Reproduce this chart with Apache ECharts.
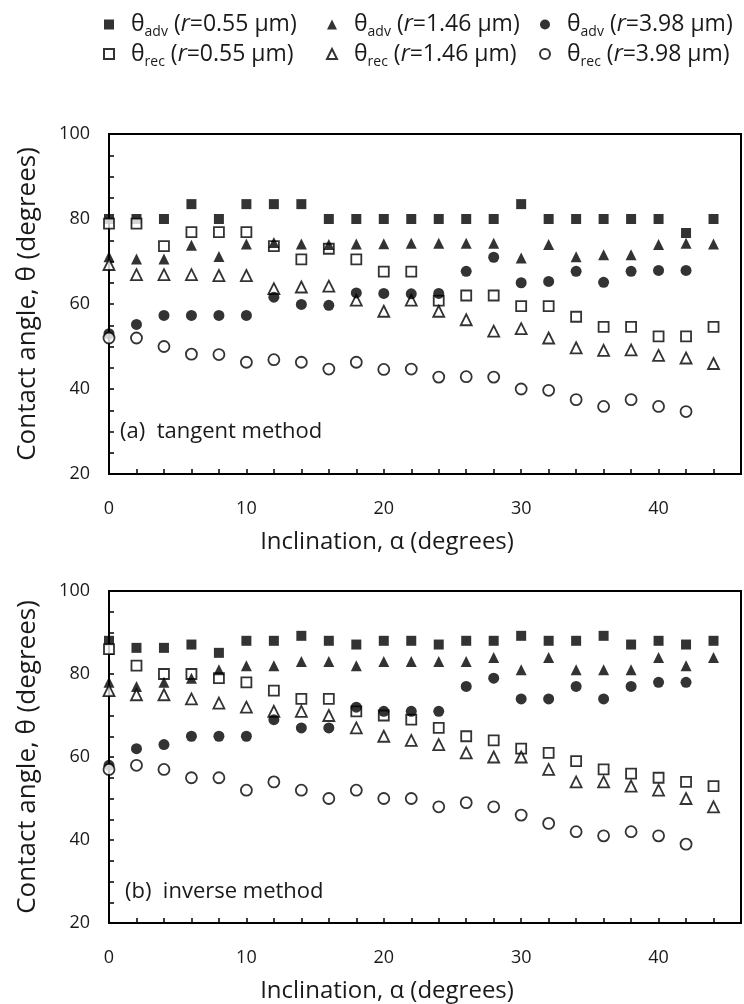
<html>
<head>
<meta charset="utf-8">
<script src="https://cdn.jsdelivr.net/npm/echarts@6/dist/echarts.min.js"></script>
</head>
<body>
<style>
    html, body { width: 100%; height: 100%; margin: 0; background: #fff; }
    #main { width: 744px; height: 1004px; }
</style>
<div id="main"></div>
<script>
// inclination (degrees), shared by every series
var incl = [0, 2, 4, 6, 8, 10, 12, 14, 16, 18, 20, 22, 24, 26, 28, 30, 32, 34, 36, 38, 40, 42, 44];

// (a) tangent method
var advA055 = [80, 80, 80, 83.5, 80, 83.5, 83.5, 83.5, 80, 80, 80, 80, 80, 80, 80, 83.5, 80, 80, 80, 80, 80, 76.7, 80];
var advA146 = [71.1, 70.6, 70.6, 73.8, 71.2, 74.1, 74.5, 74.1, 74.0, 74.1, 74.2, 74.3, 74.3, 74.3, 74.3, 70.8, 74.0, 71.1, 71.6, 71.6, 74.0, 74.3, 74.1];
var advA398 = [53.0, 55.2, 57.3, 57.3, 57.3, 57.3, 61.6, 59.9, 59.7, 62.6, 62.5, 62.4, 62.5, 67.7, 71.0, 65.0, 65.3, 67.7, 65.1, 67.7, 67.9, 67.9, null];
var recA055 = [78.9, 78.9, 73.6, 76.9, 76.9, 76.9, 73.6, 70.5, 73.0, 70.5, 67.6, 67.6, 60.8, 62.0, 62.0, 59.5, 59.5, 57.0, 54.6, 54.6, 52.4, 52.4, 54.6];
var recA146 = [69.3, 66.9, 66.9, 66.9, 66.7, 66.7, 63.6, 64.0, 64.2, 60.9, 58.3, 60.9, 58.3, 56.3, 53.6, 54.2, 52.0, 49.7, 49.1, 49.2, 47.9, 47.3, 46.0];
var recA398 = [52.0, 52.0, 50.0, 48.2, 48.1, 46.3, 46.9, 46.3, 44.7, 46.3, 44.6, 44.7, 42.8, 42.9, 42.8, 40.0, 39.7, 37.5, 35.9, 37.5, 35.9, 34.7, null];

// (b) inverse method
var advB055 = [88, 86.3, 86.3, 87.1, 85.1, 88, 88, 89.2, 88, 87.1, 88, 88, 87.1, 88, 88, 89.2, 88, 88, 89.2, 87.1, 88, 87.1, 88];
var advB146 = [78, 77, 78, 79, 81, 82, 82, 83, 83, 82, 83, 83, 83, 83, 84, 81, 84, 81, 81, 81, 84, 82, 84];
var advB398 = [58, 62, 63, 65, 65, 65, 69, 67, 67, 72, 71, 71, 71, 77, 79, 74, 74, 77, 74, 77, 78, 78, null];
var recB055 = [86, 82, 80, 80, 79, 78, 76, 74, 74, 71, 70, 69, 67, 65, 64, 62, 61, 59, 57, 56, 55, 54, 53];
var recB146 = [76, 75, 75, 74, 73, 72, 71, 71, 70, 67, 65, 64, 63, 61, 60, 60, 57, 54, 54, 53, 52, 50, 48];
var recB398 = [57, 58, 57, 55, 55, 52, 54, 52, 50, 52, 50, 50, 48, 49, 48, 46, 44, 42, 41, 42, 41, 39, null];

var panelLabels = ['(a)  tangent method', '(b)  inverse method'];
var xTitle = 'Inclination, α (degrees)';
var yTitle = 'Contact angle, θ (degrees)';

var FONT = '"Open Sans", "Noto Sans", sans-serif';
var INK = '#1a1a1a';

// one entry per legend item (same name used in both panels)
var kinds = [
    { name: 'adv055', sub: 'adv', r: '0.55', symbol: 'rect', size: 10, filled: true },
    { name: 'rec055', sub: 'rec', r: '0.55', symbol: 'rect', size: 10, filled: false },
    { name: 'adv146', sub: 'adv', r: '1.46', symbol: 'triangle', size: 11, filled: true },
    { name: 'rec146', sub: 'rec', r: '1.46', symbol: 'triangle', size: 11, filled: false },
    { name: 'adv398', sub: 'adv', r: '3.98', symbol: 'circle', size: 11, filled: true },
    { name: 'rec398', sub: 'rec', r: '3.98', symbol: 'circle', size: 11, filled: false }
];
var panelData = [
    { adv055: advA055, rec055: recA055, adv146: advA146, rec146: recA146, adv398: advA398, rec398: recA398 },
    { adv055: advB055, rec055: recB055, adv146: advB146, rec146: recB146, adv398: advB398, rec398: recB398 }
];

function pts(ys) {
    var out = [];
    for (var i = 0; i < incl.length; i++) {
        if (ys[i] != null) out.push([incl[i], ys[i]]);
    }
    return out;
}

var series = [];
for (var p = 0; p < 2; p++) {
    kinds.forEach(function (k) {
        series.push({
            type: 'scatter',
            name: k.name,
            xAxisIndex: p,
            yAxisIndex: p,
            symbol: k.symbol,
            symbolSize: k.size,
            itemStyle: k.filled
                ? { color: '#000', borderWidth: 0 }
                : { color: '#fff', borderColor: '#000', borderWidth: 1.8 },
            emphasis: { disabled: true },
            data: pts(panelData[p][k.name])
        });
    });
}

var legendRich = {
    th: { fontSize: 23, lineHeight: 30, padding: [0, 0, 0, 12], color: INK, fontFamily: FONT },
    sub: { fontSize: 14, lineHeight: 13, verticalAlign: 'bottom', color: INK, fontFamily: FONT },
    t: { fontSize: 23, lineHeight: 30, color: INK, fontFamily: FONT },
    it: { fontSize: 23, lineHeight: 30, fontStyle: 'italic', color: INK, fontFamily: FONT }
};
function legendText(name) {
    var k = kinds.filter(function (d) { return d.name === name; })[0];
    return '{th|θ}{sub|' + k.sub + '}{t| (}{it|r}{t|=' + k.r + ' μm)}';
}
var legendLefts = [98, 321, 534];
var legends = [0, 1, 2].map(function (c) {
    return {
        orient: 'vertical',
        left: legendLefts[c],
        top: 8,
        itemGap: 3,
        itemWidth: 10,
        itemHeight: 10,
        selectedMode: false,
        data: [kinds[c * 2].name, kinds[c * 2 + 1].name],
        formatter: legendText,
        textStyle: { rich: legendRich }
    };
});

function xAxis(idx) {
    return {
        type: 'value', gridIndex: idx, min: 0, max: 46, interval: 2,
        name: xTitle, nameLocation: 'middle', nameGap: 56,
        // title sits a little left of the plot centre in the original
        nameTextStyle: { fontSize: 24, color: INK, fontFamily: FONT, padding: [0, 76, 0, 0] },
        axisLine: { lineStyle: { color: '#000', width: 2 } },
        axisTick: { inside: true, length: 5, lineStyle: { color: '#000', width: 1.5 } },
        axisLabel: {
            margin: 26, fontSize: 18, color: INK, fontFamily: FONT,
            formatter: function (v) { return v % 10 === 0 ? String(v) : ''; }
        },
        splitLine: { show: false }
    };
}
function yAxis(idx) {
    return {
        type: 'value', gridIndex: idx, min: 20, max: 100, interval: 5,
        name: yTitle, nameLocation: 'middle', nameGap: 68,
        nameTextStyle: { fontSize: 26, color: INK, fontFamily: FONT },
        axisLine: { lineStyle: { color: '#000', width: 2 } },
        axisTick: { inside: true, length: 5, lineStyle: { color: '#000', width: 1.5 } },
        axisLabel: {
            margin: 19, fontSize: 18, color: INK, fontFamily: FONT,
            formatter: function (v) { return v % 20 === 0 ? String(v) : ''; }
        },
        splitLine: { show: false }
    };
}

var chart = echarts.init(document.getElementById('main'));
var option = {
    backgroundColor: '#fff',
    animation: false,
    legend: legends,
    grid: [
        { left: 109, right: 3, top: 134, height: 340, show: true, borderColor: '#000', borderWidth: 2 },
        { left: 109, right: 3, top: 591, height: 340, show: true, borderColor: '#000', borderWidth: 2 }
    ],
    xAxis: [xAxis(0), xAxis(1)],
    yAxis: [yAxis(0), yAxis(1)],
    graphic: [
        { type: 'text', left: 120, top: 421, style: { text: panelLabels[0], fontSize: 22, fill: INK, fontFamily: FONT } },
        { type: 'text', left: 125, top: 881, style: { text: panelLabels[1], fontSize: 22, fill: INK, fontFamily: FONT } }
    ],
    series: series
};
chart.setOption(option);
</script>
</body>
</html>
